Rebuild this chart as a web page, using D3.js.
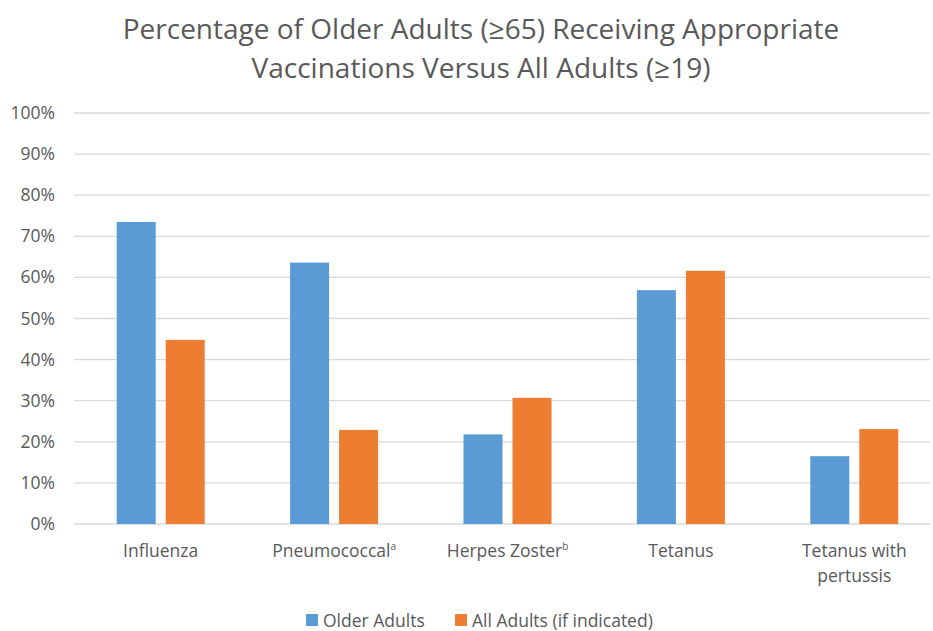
<!DOCTYPE html>
<html>
<head>
<meta charset="utf-8">
<script src="https://cdn.jsdelivr.net/npm/d3@7"></script>
<style>
  body { margin: 0; background: #fff; }
  text { font-family: "Open Sans", "Noto Sans", sans-serif; fill: #595959; }
</style>
</head>
<body>
<svg id="chart"></svg>
<script>
// data
const categories = ["Influenza", "Pneumococcal", "Herpes Zoster", "Tetanus", "Tetanus with pertussis"];
const superscripts = ["", "a", "b", "", ""];
const seriesNames = ["Older Adults", "All Adults (if indicated)"];
const olderAdults = [73.5, 63.6, 21.8, 56.9, 16.5];
const allAdults = [44.8, 22.9, 30.7, 61.6, 23.1];
const yTicks = [0, 10, 20, 30, 40, 50, 60, 70, 80, 90, 100];
const colors = ["#5B9BD5", "#ED7D31"];

const width = 933, height = 631;
const margin = { top: 113, right: -8, bottom: 107, left: 74 };
const labelSize = "17.5px";

const svg = d3.select("#chart").attr("width", width).attr("height", height);

// title
const title = svg.append("text")
  .attr("text-anchor", "middle")
  .style("font-size", "28px");
title.append("tspan").attr("x", 481).attr("y", 39).text("Percentage of Older Adults (≥65) Receiving Appropriate");
title.append("tspan").attr("x", 481).attr("y", 78).text("Vaccinations Versus All Adults (≥19)");

const y = d3.scaleLinear().domain([0, 100]).range([height - margin.bottom, margin.top]);
const x0 = d3.scaleBand().domain(categories).range([margin.left, width - margin.right]).padding(0);
const x1 = d3.scaleBand().domain(seriesNames)
  .range([x0.bandwidth() / 2 - 44, x0.bandwidth() / 2 + 44])
  .paddingInner(0.204);

// gridlines
svg.append("g")
  .selectAll("line")
  .data(yTicks)
  .enter()
  .append("line")
  .attr("x1", margin.left)
  .attr("x2", 930)
  .attr("y1", (d) => y(d))
  .attr("y2", (d) => y(d))
  .attr("stroke", "#D9D9D9")
  .attr("stroke-width", 1.3);

// y labels
svg.append("g")
  .selectAll("text")
  .data(yTicks)
  .enter()
  .append("text")
  .attr("x", 55)
  .attr("y", (d) => y(d) + 6)
  .attr("text-anchor", "end")
  .style("font-size", labelSize)
  .text((d) => d + "%");

// bars
const groups = svg.append("g")
  .selectAll("g")
  .data(categories)
  .enter()
  .append("g")
  .attr("transform", (d) => `translate(${x0(d)},0)`);

groups.selectAll("rect")
  .data((d, i) => [
    { s: seriesNames[0], v: olderAdults[i] },
    { s: seriesNames[1], v: allAdults[i] }
  ])
  .enter()
  .append("rect")
  .attr("x", (d) => x1(d.s))
  .attr("width", x1.bandwidth())
  .attr("y", (d) => y(d.v))
  .attr("height", (d) => y(0) - y(d.v))
  .attr("fill", (d, i) => colors[i]);

// category labels
categories.forEach((c, i) => {
  const cx = x0(c) + x0.bandwidth() / 2;
  const t = svg.append("text")
    .attr("text-anchor", "middle")
    .attr("x", cx)
    .attr("y", 557)
    .style("font-size", labelSize);
  if (c === "Tetanus with pertussis") {
    t.append("tspan").attr("x", cx).attr("y", 557).text("Tetanus with");
    t.append("tspan").attr("x", cx).attr("y", 582).text("pertussis");
  } else {
    t.append("tspan").text(c);
    if (superscripts[i]) {
      t.append("tspan").attr("dy", -7).style("font-size", "10px").text(superscripts[i]);
    }
  }
});

// legend
const legendX = [306, 455];
const legend = svg.append("g")
  .selectAll("g")
  .data(seriesNames)
  .enter()
  .append("g")
  .attr("transform", (d, i) => `translate(${legendX[i]},614)`);
legend.append("rect").attr("width", 12).attr("height", 12).attr("fill", (d, i) => colors[i]);
legend.append("text").attr("x", 17).attr("y", 13).style("font-size", labelSize).text((d) => d);
</script>
</body>
</html>
